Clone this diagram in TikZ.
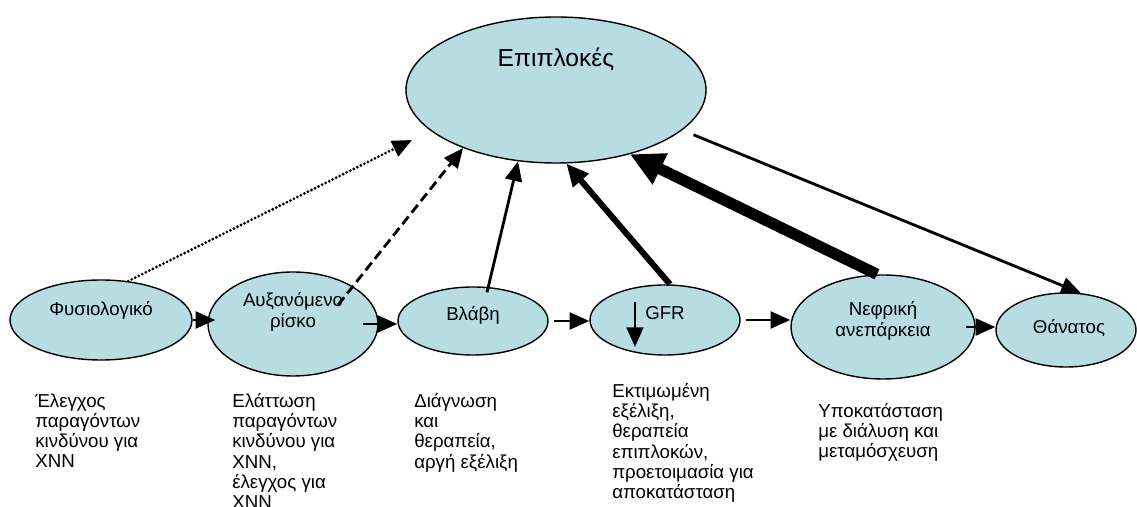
\documentclass[tikz,border=0pt]{standalone}
\usepackage{fontspec}
\setmainfont{Liberation Sans}
\usetikzlibrary{shapes.geometric,arrows.meta}
\definecolor{blobfill}{RGB}{183,221,226}

\begin{document}
\begin{tikzpicture}[
	blob/.style={ellipse, draw, line width=1pt, fill=blobfill, inner sep=0pt},
	lbl/.style={font=\fontsize{13.3}{15}\selectfont, align=center},
	note/.style={font=\fontsize{13.3}{14.3}\selectfont, align=left, anchor=north west, inner sep=0pt},
	arr/.style={line width=2pt, -{Triangle[length=14pt,width=12pt]}},
	thickarr/.style={line width=4.3pt, -{Triangle[length=16pt,width=14pt]}},
	heavyarr/.style={line width=8pt, -{Triangle[length=24pt,width=23pt]}},
	dotline/.style={dash pattern=on 0pt off 2.8pt, line cap=round},
	dashline/.style={dash pattern=on 7pt off 3.5pt},
]
	%\draw[help lines] (0,0) grid (28,12);
	\useasboundingbox (0,0) rectangle (28.425,12.675);
	\node[blob, minimum width=7.5cm, minimum height=3.65cm,
		label={[lbl, font=\fontsize{17.5}{20}\selectfont, yshift=0.775cm]center:Επιπλοκές}] (epi) at (13.9,10.425) {};
	\node[blob, minimum width=4.55cm, minimum height=2cm,
		label={[lbl, yshift=0.25cm]center:Φυσιολογικό}] (fys) at (2.525,4.675) {};
	\node[blob, minimum width=4.25cm, minimum height=2.6cm,
		label={[lbl, yshift=0.3cm]center:Αυξανόμενο\\ρίσκο}] (aux) at (7.325,4.575) {};
	\node[blob, minimum width=3.75cm, minimum height=1.7cm,
		label={[lbl, yshift=0.15cm]center:Βλάβη}] (vl) at (11.825,4.65) {};
	\node[blob, minimum width=3.75cm, minimum height=1.75cm,
		label={[lbl, yshift=0.175cm]center:GFR}] (gfr) at (16.625,4.675) {};
	\node[blob, minimum width=4.6cm, minimum height=2.6cm,
		label={[lbl, yshift=0.15cm]center:Νεφρική\\ανεπάρκεια}] (nef) at (22.075,4.5) {};
	\node[blob, minimum width=3.5cm, minimum height=1.85cm,
		label={[lbl, xshift=0.075cm, yshift=0.05cm]center:Θάνατος}] (than) at (26.65,4.425) {};
	\coordinate (dotend) at (10.3,9.175);

	\draw[arr] (fys.east) -- ([xshift=0.2cm]fys.east -| aux.west);
	\draw[arr] ([xshift=-0.4cm]aux.east) -- (aux.east -| vl.west);
	\draw[arr] ([xshift=0.125cm]vl.east) -- (vl.east -| gfr.west);
	\draw[arr] ([xshift=0.125cm]gfr.east) -- (gfr.east -| nef.west);
	\draw[arr] ([xshift=-0.25cm]nef.east) -- (nef.east -| than.west);
	\draw[arr, line width=1.6pt] ([shift={(-0.75,0.45)}]gfr.center) -- ++(0,-1.125);

	\draw[arr, dotline, line width=2.2pt] (fys.55) -- (dotend);
	\draw[arr, dashline] ([shift={(1.125,0.475)}]aux.center) -- (epi.212);
	\draw[arr] ([shift={(0.35,-0.15)}]vl.north) -- (epi.242);
	\draw[thickarr] ([xshift=0.125cm]gfr.north) -- (epi.278);
	\draw[heavyarr] ([xshift=-0.15cm]nef.north) -- (epi.319);
	\draw[arr] ([shift={(0.3,-0.1)}]epi.342) -- (than.68);

	\node[note] (n1) at (0.875,2.84) {Έλεγχος\\παραγόντων\\κινδύνου για\\ΧΝΝ};
	\node[note] (n2) at (5.8,2.84) {Ελάττωση\\παραγόντων\\κινδύνου για\\ΧΝΝ,\\έλεγχος για\\ΧΝΝ};
	\node[note] (n3) at (10.35,2.84) {Διάγνωση\\και\\θεραπεία,\\αργή εξέλιξη};
	\node[note] (n4) at (15.3,3.09) {Εκτιμωμένη\\εξέλιξη,\\θεραπεία\\επιπλοκών,\\προετοιμασία για\\αποκατάσταση};
	\node[note] (n5) at (20.45,2.59) {Υποκατάσταση\\με διάλυση και\\μεταμόσχευση};
\end{tikzpicture}
\end{document}
